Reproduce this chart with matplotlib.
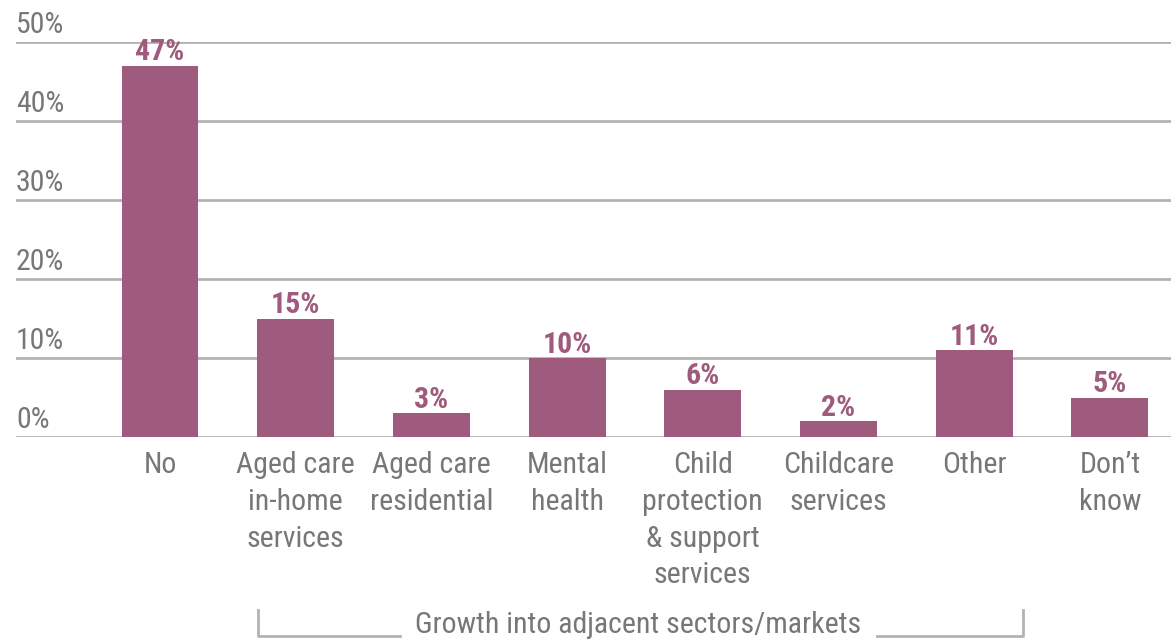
import numpy as np
import matplotlib.pyplot as plt
from matplotlib.transforms import blended_transform_factory

plt.rcParams['font.family'] = ['Roboto Condensed', 'DejaVu Sans']

categories = ['No', 'Aged care\nin-home\nservices', 'Aged care\nresidential',
              'Mental\nhealth', 'Child\nprotection\n& support\nservices',
              'Childcare\nservices', 'Other', 'Don\u2019t\nknow']
values = [47, 15, 3, 10, 6, 2, 11, 5]
yticks = [0, 10, 20, 30, 40, 50]
group_label = 'Growth into adjacent sectors/markets'

bar_color = '#9e5b7d'
grid_color = '#b3b3b3'
text_gray = '#77777a'

fig = plt.figure(figsize=(11.71, 6.39), dpi=100)
ax = fig.add_axes([16 / 1171, 1 - 437 / 639, 1 - 16 / 1171, (437 - 42) / 639])

x = np.arange(len(categories))
bars = ax.bar(x, values, width=0.567, color=bar_color, zorder=3)

ax.set_xlim(-1.061, 7.45)
ax.set_ylim(0, 50)
for t in yticks:
    ax.axhline(t, color=grid_color, lw=2, zorder=1)
    ax.text(-1.061, t + 0.35, '%d%%' % t, ha='left', va='bottom',
            fontsize=21.5, color=text_gray)

for rect, v in zip(bars, values):
    ax.text(rect.get_x() + rect.get_width() / 2, v - 0.1, '%d%%' % v,
            ha='center', va='bottom', fontsize=21.5, fontweight='bold',
            color=bar_color)

trans = blended_transform_factory(ax.transData, fig.transFigure)
for xi, lab in zip(x, categories):
    ax.text(xi, 1 - 451 / 639, lab, transform=trans, ha='center', va='top',
            fontsize=21.5, color=text_gray, linespacing=1.4)

ax.axis('off')

# bracket under the grouped categories
yb_top = 1 - 610 / 639
yb_bot = 1 - 636 / 639
bkw = dict(color=grid_color, lw=2, transform=trans, clip_on=False)
ax.plot([0.72, 0.72, 1.77], [yb_top, yb_bot, yb_bot], **bkw)
ax.plot([5.28, 6.36, 6.36], [yb_bot, yb_bot, yb_top], **bkw)
ax.text(3.52, 1 - 625 / 639, group_label, transform=trans, ha='center',
        va='center', fontsize=21.5, color=text_gray)

plt.savefig('out.png', dpi=100)
plt.close()
